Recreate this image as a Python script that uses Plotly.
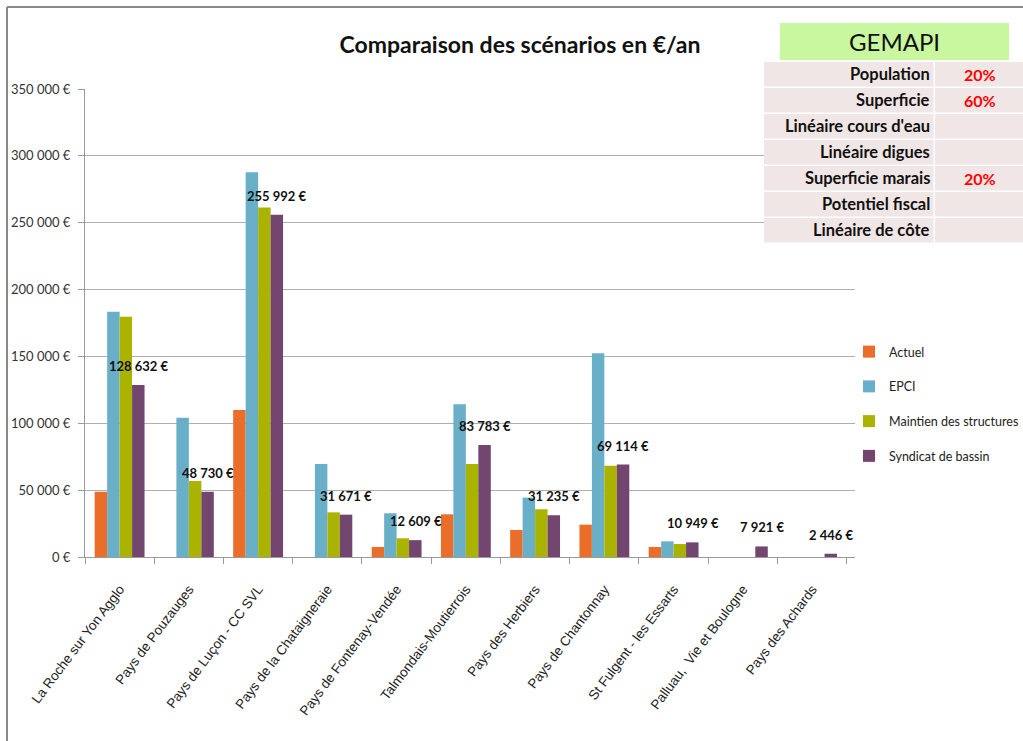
import plotly.graph_objects as go

categories = [
    "La Roche sur Yon Agglo", "Pays de Pouzauges", "Pays de Luçon - CC SVL",
    "Pays de la Chataigneraie", "Pays de Fontenay-Vendée", "Talmondais-Moutierrois",
    "Pays des Herbiers", "Pays de Chantonnay", "St Fulgent - les Essarts",
    "Palluau,  Vie et Boulogne", "Pays des Achards",
]
actuel = [48800, None, 109900, None, 7500, 31900, 20200, 24200, 7500, None, None]
epci = [183500, 104200, 287700, 69600, 32700, 114200, 44400, 152300, 11700, None, None]
maintien = [179700, 56800, 261300, 33400, 14000, 69600, 35700, 68300, 9700, None, None]
syndicat = [128632, 48730, 255992, 31671, 12609, 83783, 31235, 69114, 10949, 7921, 2446]

series_names = ["Actuel", "EPCI", "Maintien des structures", "Syndicat de bassin"]
series_colors = ["#EA6D2A", "#69AFC8", "#AAB300", "#72466F"]

table_labels = ["Population", "Superficie", "Linéaire cours d'eau", "Linéaire digues",
                "Superficie marais", "Potentiel fiscal", "Linéaire de côte"]
table_values = ["20%", "60%", "", "", "20%", "", ""]
table_title = "GEMAPI"
chart_title = "Comparaison des scénarios en €/an"

W, H = 1023, 741
L, R, T, B = 85, 855, 89, 557
BARGAP = 0.28
FONT = "Lato, sans-serif"


def X(px):
    return (px - L) / (R - L)


def Y(py):
    return (B - py) / (B - T)


fig = go.Figure()
for name, vals, col in zip(series_names, [actuel, epci, maintien, syndicat], series_colors):
    fig.add_trace(go.Bar(
        name=name, x=categories, y=vals, marker=dict(color=col, line=dict(width=0)),
        legendgroup=name,
    ))

# data labels above the "Syndicat de bassin" bars
cat_px = (R - L) / len(categories)
bar_px = (1 - BARGAP) * cat_px / 4
label_shift = 1.5 * bar_px
annotations = []
for c, v in zip(categories, syndicat):
    annotations.append(dict(
        x=c, y=v, xref="x", yref="y", xshift=label_shift, yshift=19,
        text=f"{v:,}".replace(",", " ") + " €", showarrow=False,
        font=dict(family=FONT, size=13, color="#111111", weight="bold"),
        xanchor="center", yanchor="middle",
    ))

shapes = []
# outer frame (top and left)
shapes.append(dict(type="line", xref="paper", yref="paper", x0=X(7), x1=X(1023), y0=Y(7), y1=Y(7),
                   line=dict(color="#8a8a8a", width=2)))
shapes.append(dict(type="line", xref="paper", yref="paper", x0=X(7), x1=X(7), y0=Y(7), y1=Y(741),
                   line=dict(color="#8a8a8a", width=2)))

# GEMAPI table
shapes.append(dict(type="rect", xref="paper", yref="paper", x0=X(780), x1=X(1009), y0=Y(23), y1=Y(60),
                   fillcolor="#c8f7a0", line=dict(width=0), layer="above"))
annotations.append(dict(x=X(894), y=Y(42), xref="paper", yref="paper", text=table_title, showarrow=False,
                        font=dict(family=FONT, size=24, color="#111111"),
                        xanchor="center", yanchor="middle"))
row_h = 26
for i, (lab, val) in enumerate(zip(table_labels, table_values)):
    y0 = 62 + row_h * i
    y1 = y0 + row_h - 1.5
    shapes.append(dict(type="rect", xref="paper", yref="paper", x0=X(764), x1=X(933.5), y0=Y(y0), y1=Y(y1),
                       fillcolor="#f0e6e5", line=dict(width=0), layer="above"))
    shapes.append(dict(type="rect", xref="paper", yref="paper", x0=X(935), x1=X(1023), y0=Y(y0), y1=Y(y1),
                       fillcolor="#f0e6e5", line=dict(width=0), layer="above"))
    annotations.append(dict(x=X(932), y=Y((y0 + y1) / 2), xref="paper", yref="paper", text=lab,
                            showarrow=False, xanchor="right", yanchor="middle",
                            font=dict(family=FONT, size=16.5, color="#111111", weight="bold")))
    if val:
        annotations.append(dict(x=X(980), y=Y((y0 + y1) / 2), xref="paper", yref="paper", text=val,
                                showarrow=False, xanchor="center", yanchor="middle",
                                font=dict(family=FONT, size=16, color="#ff0000", weight="bold")))

fig.update_layout(
    width=W, height=H, autosize=False,
    margin=dict(l=L, r=W - R, t=T, b=H - B, pad=0, autoexpand=False),
    paper_bgcolor="white", plot_bgcolor="white",
    barmode="group", bargap=BARGAP, bargroupgap=0,
    separators=", ",
    title=dict(text=chart_title, x=520 / W, xref="container", y=1 - 45 / H,
               xanchor="center", yanchor="middle",
               font=dict(family=FONT, size=23, color="#111111", weight="bold")),
    legend=dict(x=X(849), y=Y(337), xanchor="left", yanchor="top", tracegroupgap=15.5,
                font=dict(family=FONT, size=12.5, color="#222222"), itemwidth=30,
                bgcolor="rgba(0,0,0,0)", traceorder="grouped"),
    annotations=annotations, shapes=shapes,
    xaxis=dict(tickangle=-53, tickfont=dict(family="Liberation Sans, sans-serif", size=13.5, color="#222222"),
               showline=True, linecolor="#9a9a9a", linewidth=1, ticks="outside", tickson="boundaries",
               ticklen=6, tickcolor="#9a9a9a", showgrid=False, ticklabelstandoff=18),
    yaxis=dict(range=[0, 350000], dtick=50000, tickformat=",.0f", ticksuffix=" €",
               tickfont=dict(family=FONT, size=13, color="#333333"), ticklabelstandoff=5,
               showline=True, linecolor="#9a9a9a", linewidth=1, ticks="outside", ticklen=6,
               tickcolor="#9a9a9a", showgrid=True, gridcolor="#b0b0b0", gridwidth=1.2, zeroline=False),
)

fig.write_html("out.html", post_script="document.body.style.margin='0';",
               config={"displayModeBar": False})
